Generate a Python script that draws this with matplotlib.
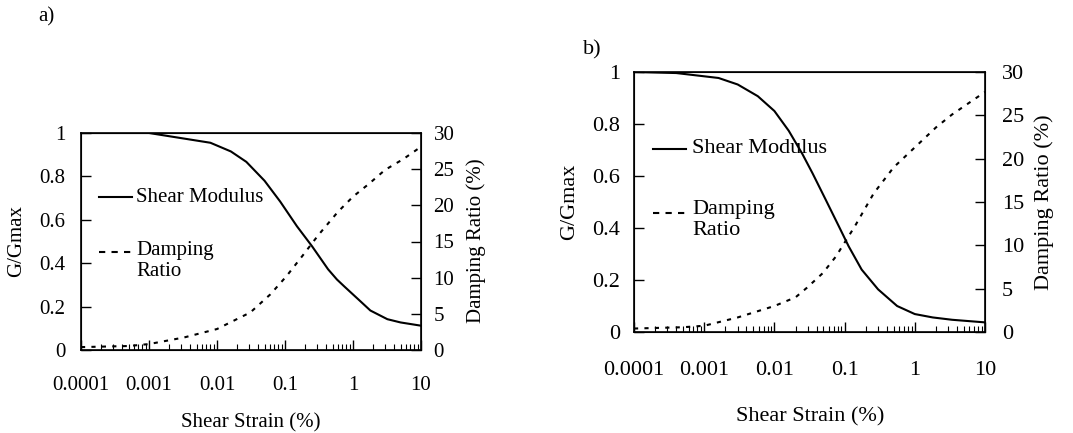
import matplotlib.pyplot as plt
import numpy as np
from matplotlib.ticker import NullFormatter, LogLocator

plt.rcParams['font.family'] = ['Liberation Serif', 'DejaVu Serif']

# Panel a) data (read off the picture)
strain_a = [0.0001, 0.001, 0.002, 0.004, 0.008, 0.016, 0.027, 0.05, 0.085, 0.15,
            0.25, 0.43, 0.58, 0.75, 1.25, 1.8, 3.2, 5.0, 10]
g_a = [1.0, 1.0, 0.985, 0.97, 0.955, 0.915, 0.867, 0.78, 0.684, 0.57,
       0.478, 0.372, 0.325, 0.292, 0.228, 0.182, 0.142, 0.127, 0.112]
damp_strain_a = [0.0001, 0.0005, 0.001, 0.0033, 0.01, 0.031, 0.061, 0.105, 0.18, 0.31,
                 0.6, 1.0, 1.73, 2.96, 5.5, 10]
damp_a = [0.4, 0.55, 0.82, 1.74, 2.9, 5.2, 7.7, 10.2, 13.0, 15.9,
          19.1, 21.2, 23.0, 24.9, 26.4, 28.1]

# Panel b) data
strain_b = [0.0001, 0.0004, 0.0016, 0.003, 0.0058, 0.01, 0.016, 0.025, 0.035, 0.054,
            0.083, 0.114, 0.175, 0.3, 0.56, 1.0, 1.8, 3.4, 10]
g_b = [1.0, 0.996, 0.977, 0.952, 0.907, 0.85, 0.774, 0.685, 0.61, 0.508,
       0.406, 0.33, 0.24, 0.164, 0.10, 0.069, 0.056, 0.047, 0.037]
damp_strain_b = [0.0001, 0.0005, 0.001, 0.003, 0.01, 0.02, 0.029, 0.049, 0.075, 0.14,
                 0.26, 0.5, 1.0, 2.0, 3.4, 10]
damp_b = [0.4, 0.55, 0.72, 1.68, 3.0, 4.0, 5.1, 6.8, 8.7, 12.2,
          16.0, 19.0, 21.3, 23.6, 25.1, 27.7]

x_ticks = [0.0001, 0.001, 0.01, 0.1, 1, 10]
x_labels = ['0.0001', '0.001', '0.01', '0.1', '1', '10']
g_ticks = [0, 0.2, 0.4, 0.6, 0.8, 1]
g_labels = ['0', '0.2', '0.4', '0.6', '0.8', '1']
d_ticks = [0, 5, 10, 15, 20, 25, 30]

W, H = 1073, 433
fig = plt.figure(figsize=(W / 100, H / 100), dpi=100)

dash_curve = (0, (2, 3))
dash_leg = (0, (3, 3))


def panel(rect, strain, g, dstrain, damp, fs, xpad, lpad, rpad, leg):
    ax = fig.add_axes(rect)
    ax.plot(strain, g, color='black', lw=1.5)
    ax.set_xscale('log')
    ax.set_xlim(0.0001, 10)
    ax.set_ylim(0, 1)
    ax.set_xticks(x_ticks)
    ax.set_xticklabels(x_labels)
    ax.xaxis.set_minor_locator(LogLocator(base=10, subs=np.arange(2, 10), numticks=20))
    ax.xaxis.set_minor_formatter(NullFormatter())
    ax.set_yticks(g_ticks)
    ax.set_yticklabels(g_labels)
    ax.tick_params(axis='x', which='major', direction='in', length=7, width=1, pad=xpad, labelsize=fs)
    ax.tick_params(axis='x', which='minor', direction='in', length=4, width=0.8)
    ax.tick_params(axis='y', direction='in', length=7, width=1, pad=lpad, labelsize=fs)
    for s in ax.spines.values():
        s.set_linewidth(1.2)

    ax2 = ax.twinx()
    ax2.plot(dstrain, damp, color='black', lw=1.5, linestyle=dash_curve)
    ax2.set_ylim(0, 30)
    ax2.set_yticks(d_ticks)
    ax2.tick_params(axis='y', direction='in', length=7, width=1, pad=rpad, labelsize=fs)

    # hand-made legend
    x0, x1, xt, ys, yd = leg
    ax.plot([x0, x1], [ys, ys], color='black', lw=1.5, transform=ax.transAxes, clip_on=False)
    ax.text(xt, ys, 'Shear Modulus', fontsize=fs, va='center', transform=ax.transAxes)
    ax.plot([x0, x1], [yd, yd], color='black', lw=1.5, linestyle=dash_leg,
            transform=ax.transAxes, clip_on=False)
    ax.text(xt, yd + 0.05, 'Damping\nRatio', fontsize=fs, va='top', linespacing=1.15,
            transform=ax.transAxes)
    return ax, ax2


panel([81 / W, 1 - 350 / H, 340 / W, 217 / H], strain_a, g_a, damp_strain_a, damp_a,
      15, 19, 11, 9, (0.053, 0.15, 0.162, 0.705, 0.452))
panel([634 / W, 1 - 332 / H, 351 / W, 260 / H], strain_b, g_b, damp_strain_b, damp_b,
      16, 21, 10, 12, (0.054, 0.148, 0.165, 0.704, 0.458))

# labels
fig.text(251 / W, 1 - 423 / H, 'Shear Strain (%)', fontsize=15, ha='center', va='center')
fig.text(17 / W, 1 - 241 / H, 'G/Gmax', fontsize=15, ha='center', va='center', rotation=90)
fig.text(476 / W, 1 - 241 / H, 'Damping Ratio (%)', fontsize=15, ha='center', va='center', rotation=90)
fig.text(46 / W, 1 - 17 / H, 'a)', fontsize=15, ha='center', va='center')

fig.text(810 / W, 1 - 417 / H, 'Shear Strain (%)', fontsize=16, ha='center', va='center')
fig.text(570 / W, 1 - 202 / H, 'G/Gmax', fontsize=16, ha='center', va='center', rotation=90)
fig.text(1044 / W, 1 - 202 / H, 'Damping Ratio (%)', fontsize=16, ha='center', va='center', rotation=90)
fig.text(592 / W, 1 - 50 / H, 'b)', fontsize=16, ha='center', va='center')

plt.savefig('out.png', dpi=100)
